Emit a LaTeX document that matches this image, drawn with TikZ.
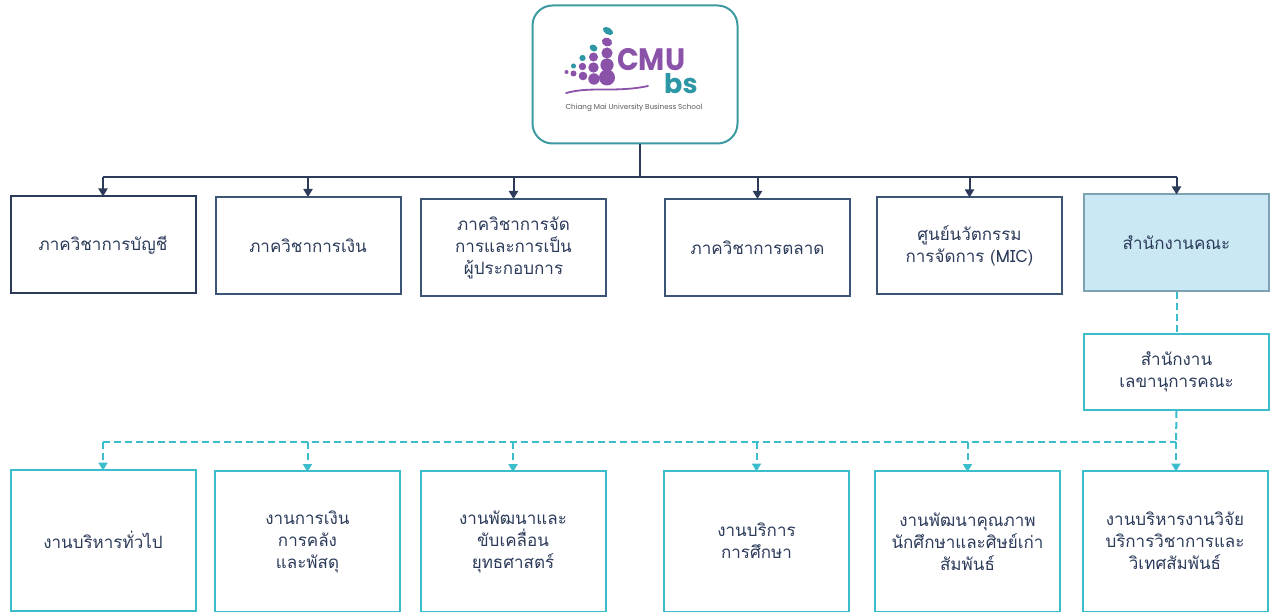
\documentclass[tikz,border=0pt]{standalone}
\usepackage{fontspec}
\newfontfamily\thai[Script=Thai]{Loma}
\newfontfamily\logofont{Poppins}
\usetikzlibrary{arrows.meta}
\definecolor{navy}{HTML}{2C3B5A}
\definecolor{navyb}{HTML}{3D5575}
\definecolor{cyanb}{HTML}{3BBDCC}
\definecolor{logoteal}{HTML}{3D9AA0}
\definecolor{officefill}{HTML}{C9E8F4}
\definecolor{officeb}{HTML}{7DA3B3}
\definecolor{lpurple}{HTML}{8B52A9}
\definecolor{lteal}{HTML}{2E97A6}
\begin{document}
\begin{tikzpicture}[x=1pt,y=-1pt,
  every node/.style={inner sep=0pt},
  lbl/.style={font=\thai\fontsize{17}{22}\selectfont, text=navy, align=center},
  topbox/.style={lbl, draw=navyb, line width=2pt, minimum width=185pt, minimum height=97pt},
  botbox/.style={lbl, draw=cyanb, line width=2pt, minimum width=185pt, minimum height=141pt},
  solidarrow/.style={draw=navy, line width=2pt, -{Triangle[width=9pt,length=8pt]}},
  dasharrow/.style={draw=cyanb, line width=2pt, dash pattern=on 7pt off 4pt, -{Triangle[width=9pt,length=8pt]}},
  dashline/.style={draw=cyanb, line width=2pt, dash pattern=on 7pt off 4pt},
  dot/.style={fill=lpurple, draw=none},
  tdot/.style={fill=lteal, draw=none}
]
\useasboundingbox (0,0) rectangle (1270,612);
\fill[white] (0,0) rectangle (1270,612);

% logo box
\node[draw=logoteal, line width=2pt, rounded corners=20pt, minimum width=205pt, minimum height=138pt] (logo) at (635,74.5) {};
% logo dots
\fill[tdot, rotate around={-30:(608,31)}] (608,31) ellipse [x radius=5.6pt, y radius=3.4pt];
\fill[dot, rotate around={-20:(607,42)}] (607,42) ellipse [x radius=5.2pt, y radius=4.3pt];
\fill[dot] (607,53) circle [radius=5.6pt];
\fill[dot] (607,65) circle [radius=6.6pt];
\fill[dot] (607,77.5) circle [radius=8pt];
\fill[tdot, rotate around={-30:(593.5,48)}] (593.5,48) ellipse [x radius=4.1pt, y radius=3.2pt];
\fill[dot] (593.5,57) circle [radius=4.5pt];
\fill[dot] (593.5,67.5) circle [radius=5.2pt];
\fill[dot] (594,79) circle [radius=5.7pt];
\fill[tdot] (582.5,58) circle [radius=3.1pt];
\fill[dot] (582.5,66.5) circle [radius=3.7pt];
\fill[dot] (583,76) circle [radius=4.3pt];
\fill[tdot] (573.5,66) circle [radius=2.5pt];
\fill[dot] (573.5,73.5) circle [radius=3pt];
\fill[dot] (566.5,72) circle [radius=2pt];
\node[anchor=base west, font=\logofont\bfseries\fontsize{31}{31}\selectfont, text=lpurple] (cmu) at (617,71)
  {\scalebox{0.92}[1]{CMU}\rlap{\hspace*{-21pt}\raisebox{-23pt}{\color{lteal}\fontsize{27}{27}\selectfont bs}}};
\draw[lpurple, line width=1.8pt, line cap=round] (566,93) .. controls (592,86) and (615,93) .. (648,86);
\node[font=\logofont\fontsize{7.2}{8}\selectfont, text=black!65] (tag) at (634,108) {Chiang Mai University Business School};

% top row
\node[topbox, draw=navy] (t1) at (103,245) {ภาควิชาการบัญชี};
\node[topbox] (t2) at (308,245.5) {ภาควิชาการเงิน};
\node[topbox] (t3) at (513.5,247.5) {ภาควิชาการจัด\\การและการเป็น\\ผู้ประกอบการ};
\node[topbox] (t4) at (757.5,247.5) {ภาควิชาการตลาด};
\node[topbox] (t5) at (969.5,246) {ศูนย์นวัตกรรม\\การจัดการ (MIC)};
\node[topbox, draw=officeb, fill=officefill] (t6) at (1176.5,243) {สำนักงานคณะ};

% solid connectors
\coordinate (bus) at (640,177.5);
\draw[navy, line width=2pt] (logo.south -| bus) -- (bus);
\draw[navy, line width=2pt] (t1.north |- bus) -- (t6.north |- bus);
\foreach \n in {t1,t2,t3,t4,t5,t6}{
  \draw[solidarrow] (\n.north |- bus) -- ([yshift=-1pt]\n.north);
}

% secretariat
\node[lbl, draw=cyanb, line width=2pt, minimum width=185pt, minimum height=76pt] (sec) at (1176.5,372) {สำนักงาน\\เลขานุการคณะ};
\draw[dashline] (t6.south) -- (sec.north);

% bottom row
\node[botbox] (b1) at (103,540) {งานบริหารทั่วไป};
\node[botbox] (b2) at (307.5,541.5) {งานการเงิน\\การคลัง\\และพัสดุ};
\node[botbox] (b3) at (513,541.5) {งานพัฒนาและ\\ขับเคลื่อน\\ยุทธศาสตร์};
\node[botbox] (b4) at (756.5,541) {งานบริการ\\การศึกษา};
\node[botbox] (b5) at (967.5,541.5) {งานพัฒนาคุณภาพ\\นักศึกษาและศิษย์เก่า\\สัมพันธ์};
\node[botbox] (b6) at (1175,541) {งานบริหารงานวิจัย\\บริการวิชาการและ\\วิเทศสัมพันธ์};

\coordinate (dbus) at (1176,442);
\draw[dashline] (sec.south) -- (dbus);
\draw[dashline] (b1.north |- dbus) -- (dbus);
\foreach \n in {b1,b2,b3,b4,b5}{
  \draw[dasharrow] (\n.north |- dbus) -- ([yshift=-2pt]\n.north);
}
\draw[dasharrow] (dbus) -- ([yshift=-2pt]b6.north -| dbus);
\end{tikzpicture}
\end{document}
